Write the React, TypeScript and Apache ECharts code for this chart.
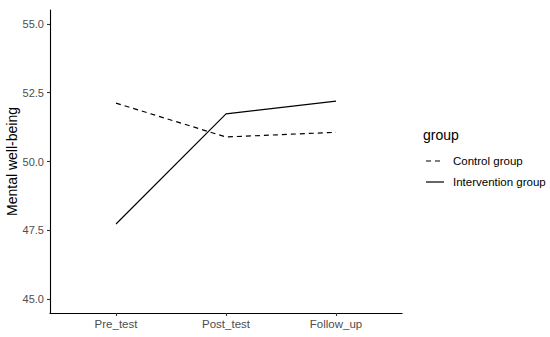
import React, { useEffect, useRef } from "react";
import * as echarts from "echarts";

const categories = ["Pre_test", "Post_test", "Follow_up"];
const controlValues = [52.12, 50.89, 51.06];
const interventionValues = [47.73, 51.73, 52.19];
const yTicks = [45, 47.5, 50, 52.5, 55];
const seriesNames = ["Control group", "Intervention group"];

export default function App() {
  const ref = useRef<HTMLDivElement>(null);
  useEffect(() => {
    if (!ref.current) return;
    const chart = echarts.init(ref.current, undefined, { renderer: "svg" });
    const font = "Liberation Sans, Arial, sans-serif";
    const toPts = (vals: number[]) => vals.map((v, i) => [i, v]);
    const keyStyle = { stroke: "#000000", lineWidth: 1.2 };
    chart.setOption({
      animation: false,
      backgroundColor: "#ffffff",
      textStyle: { fontFamily: font },
      graphic: [
        { type: "text", left: 423, top: 128, style: { text: "group", fontFamily: font, fontSize: 14, fill: "#000000" } },
        { type: "line", shape: { x1: 426, y1: 161, x2: 444, y2: 161 }, style: { ...keyStyle, lineDash: [5, 4] } },
        { type: "text", left: 453, top: 155, style: { text: seriesNames[0], fontFamily: font, fontSize: 11.5, fill: "#000000" } },
        { type: "line", shape: { x1: 426, y1: 182, x2: 444, y2: 182 }, style: { ...keyStyle } },
        { type: "text", left: 453, top: 176, style: { text: seriesNames[1], fontFamily: font, fontSize: 11.5, fill: "#000000" } },
      ],
      grid: { left: 50, right: 148, top: 10, bottom: 24, containLabel: false, outerBoundsMode: "none" },
      xAxis: {
        type: "value",
        min: -0.6,
        max: 2.6,
        splitLine: { show: false },
        axisLine: { show: true, onZero: false, lineStyle: { color: "#000000", width: 1.1 } },
        axisTick: { show: true, length: 3, customValues: [0, 1, 2], lineStyle: { color: "#333333", width: 1.1 } },
        axisLabel: {
          customValues: [0, 1, 2],
          formatter: (v: number) => categories[Math.round(v)] ?? "",
          color: "#4D4D4D",
          fontSize: 11.5,
          fontFamily: font,
          margin: 5,
        },
      },
      yAxis: {
        type: "value",
        min: 44.5,
        max: 55.5,
        name: "Mental well-being",
        nameLocation: "middle",
        nameGap: 31,
        nameRotate: 90,
        nameMoveOverlap: false,
        nameTextStyle: { fontFamily: font, fontSize: 14, color: "#000000" },
        splitLine: { show: false },
        axisLine: { show: true, onZero: false, lineStyle: { color: "#000000", width: 1.1 } },
        axisTick: { show: true, length: 3, customValues: yTicks, lineStyle: { color: "#333333", width: 1.1 } },
        axisLabel: {
          customValues: yTicks,
          formatter: (v: number) => v.toFixed(1),
          color: "#4D4D4D",
          fontSize: 11,
          fontFamily: font,
          margin: 6,
        },
      },
      series: [
        {
          name: seriesNames[0],
          type: "line",
          data: toPts(controlValues),
          symbol: "none",
          color: "#000000",
          lineStyle: { color: "#000000", width: 1.2, type: [5, 4] },
        },
        {
          name: seriesNames[1],
          type: "line",
          data: toPts(interventionValues),
          symbol: "none",
          color: "#000000",
          lineStyle: { color: "#000000", width: 1.2, type: "solid" },
        },
      ],
    });
    return () => chart.dispose();
  }, []);
  return <div ref={ref} style={{ width: 550, height: 337, position: "absolute", left: 0, top: 0 }} />;
}
